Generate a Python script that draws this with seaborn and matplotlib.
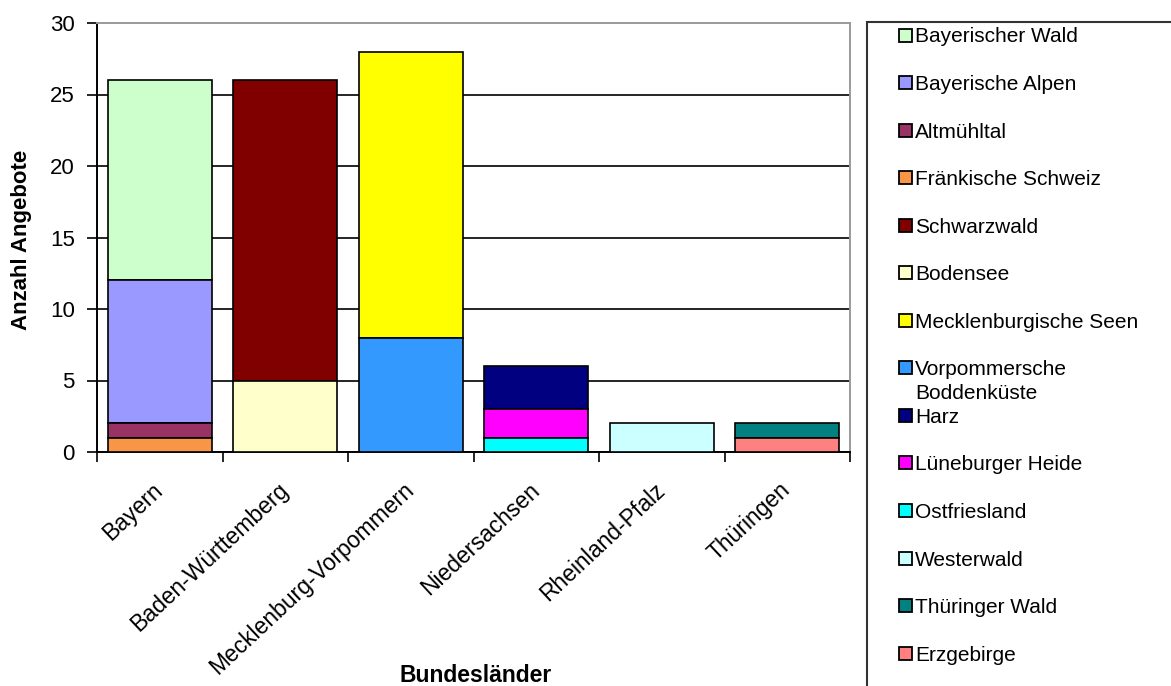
import matplotlib
matplotlib.use("Agg")
import matplotlib.pyplot as plt
from matplotlib.patches import Rectangle
import pandas as pd
import seaborn as sns

# Federal states on the x axis
bundeslaender = ["Bayern", "Baden-Württemberg", "Mecklenburg-Vorpommern",
                 "Niedersachsen", "Rheinland-Pfalz", "Thüringen"]

# Holiday regions, in legend order (top of each stack first)
gebiete = ["Bayerischer Wald", "Bayerische Alpen", "Altmühltal",
           "Fränkische Schweiz", "Schwarzwald", "Bodensee",
           "Mecklenburgische Seen", "Vorpommersche\nBoddenküste", "Harz",
           "Lüneburger Heide", "Ostfriesland", "Westerwald",
           "Thüringer Wald", "Erzgebirge"]
gebiet_land = ["Bayern", "Bayern", "Bayern", "Bayern",
               "Baden-Württemberg", "Baden-Württemberg",
               "Mecklenburg-Vorpommern", "Mecklenburg-Vorpommern",
               "Niedersachsen", "Niedersachsen", "Niedersachsen",
               "Rheinland-Pfalz", "Thüringen", "Thüringen"]
anzahl = [14, 10, 1, 1, 21, 5, 20, 8, 3, 2, 1, 2, 1, 1]
farben = ["#CCFFCC", "#9999FF", "#993366", "#F79646", "#800000", "#FFFFCC",
          "#FFFF00", "#3399FF", "#000080", "#FF00FF", "#00FFFF", "#CCFFFF",
          "#008080", "#FF8080"]

y_ticks = [0, 5, 10, 15, 20, 25, 30]

df = pd.DataFrame({"Bundesland": gebiet_land, "Gebiet": gebiete, "Anzahl": anzahl})
# stack from the last listed region upwards
df["Basis"] = (df.iloc[::-1].groupby("Bundesland")["Anzahl"].cumsum().iloc[::-1]
               - df["Anzahl"])

sns.set_theme(style="white")
plt.rcParams["font.family"] = ["Liberation Sans", "DejaVu Sans"]

W, H = 1171, 686
fig = plt.figure(figsize=(W / 100, H / 100), dpi=100)
ax = fig.add_axes([97 / W, 1 - 452 / H, (850 - 97) / W, (452 - 23) / H])

for gebiet, farbe in zip(gebiete, farben):
    sub = df[df["Gebiet"] == gebiet]
    sns.barplot(data=sub, x="Bundesland", y="Anzahl", order=bundeslaender,
                bottom=sub["Basis"].to_numpy(), color=farbe, saturation=1,
                width=0.83, edgecolor="black", linewidth=1.2, errorbar=None,
                ax=ax, zorder=3)

ax.set_xlim(-0.5, len(bundeslaender) - 0.5)
ax.set_ylim(0, 30)
ax.set_yticks(y_ticks)
ax.set_yticklabels([str(t) for t in y_ticks], fontsize=16, color="black")
ax.tick_params(axis="y", direction="out", length=7, width=1.2, color="black",
               pad=9, left=True)

# category labels at centres, tick marks between categories
ax.set_xticks(range(len(bundeslaender)))
ax.set_xticklabels(bundeslaender, rotation=43, ha="right", va="center",
                   rotation_mode="anchor", fontsize=16.5, color="black")
ax.tick_params(axis="x", which="major", length=0, pad=25)
ax.set_xticks([i - 0.5 for i in range(len(bundeslaender) + 1)], minor=True)
ax.tick_params(axis="x", which="minor", direction="out", length=7, width=1.2,
               color="black", bottom=True)

ax.yaxis.grid(True, color="black", linewidth=1.2)
ax.xaxis.grid(False)
ax.set_axisbelow(True)
ax.get_ygridlines()[-1].set_visible(False)

for side in ("left", "bottom"):
    ax.spines[side].set_color("black")
    ax.spines[side].set_linewidth(1.4)
for side in ("top", "right"):
    ax.spines[side].set_color("#9a9a9a")
    ax.spines[side].set_linewidth(1.4)

ax.set_xlabel("")
ax.set_ylabel("")
fig.text(22 / W, 1 - 240 / H, "Anzahl Angebote", rotation=90, fontsize=16,
         fontweight="bold", ha="center", va="center", color="black")
fig.text(476 / W, 1 - 676 / H, "Bundesländer", fontsize=16.5,
         fontweight="bold", ha="center", va="center", color="black")

# legend box on the right, running past the figure edge
fig.add_artist(Rectangle((867 / W, -0.05), (1200 - 867) / W, 0.05 + 1 - 22 / H,
                         transform=fig.transFigure, facecolor="white",
                         edgecolor="#333333", linewidth=1.5))
for k, (gebiet, farbe) in enumerate(zip(gebiete, farben)):
    yc = 35 + 47.55 * k
    fig.add_artist(Rectangle((899 / W, 1 - (yc + 6.5) / H), 13 / W, 13 / H,
                             transform=fig.transFigure, facecolor=farbe,
                             edgecolor="black", linewidth=1.3))
    zeilen = gebiet.split("\n")
    for j, zeile in enumerate(zeilen):
        fig.text(915 / W, 1 - (yc + 24 * j) / H, zeile, fontsize=15,
                 ha="left", va="center_baseline", color="black")

fig.savefig("out.png", dpi=100)
